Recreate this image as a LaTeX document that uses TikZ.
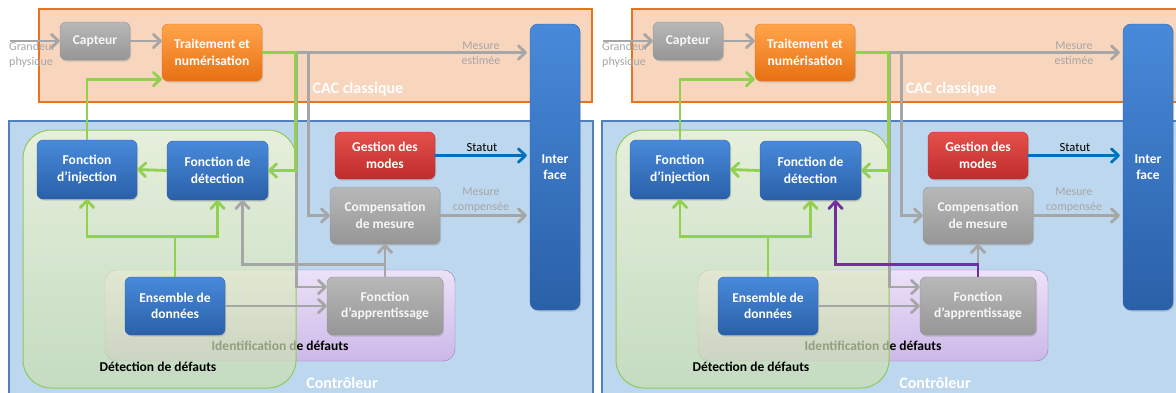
\documentclass[tikz,border=0pt]{standalone}
\usepackage{fontspec}
\setmainfont{Carlito}
\usetikzlibrary{arrows.meta, positioning, calc, shadows}
\definecolor{cacfill}{RGB}{248,214,190}
\definecolor{cacline}{RGB}{232,114,30}
\definecolor{ctrlfill}{RGB}{189,215,238}
\definecolor{ctrlline}{RGB}{79,129,189}
\definecolor{detT}{RGB}{248,250,212}
\definecolor{detB}{RGB}{200,222,176}
\definecolor{detline}{RGB}{146,200,90}
\definecolor{idT}{RGB}{236,226,248}
\definecolor{idB}{RGB}{204,184,232}
\definecolor{idline}{RGB}{150,120,195}
\definecolor{nodeblueT}{RGB}{72,138,218}
\definecolor{nodeblueB}{RGB}{42,96,168}
\definecolor{nodegreyT}{RGB}{184,184,184}
\definecolor{nodegreyB}{RGB}{150,150,150}
\definecolor{nodeorangeT}{RGB}{255,165,75}
\definecolor{nodeorangeB}{RGB}{232,112,20}
\definecolor{noderedT}{RGB}{228,80,74}
\definecolor{noderedB}{RGB}{190,45,45}
\definecolor{linegreen}{RGB}{146,208,80}
\definecolor{linegrey}{RGB}{166,166,166}
\definecolor{lineblue}{RGB}{0,112,192}
\definecolor{linepurple}{RGB}{112,48,160}
\begin{document}
\begin{tikzpicture}[x=1pt, y=-1pt,
    every node/.style={inner sep=0pt},
    box/.style={rounded corners=6pt, align=center, text=white,
        font=\fontsize{13.5}{16.5}\selectfont\bfseries,
        drop shadow={opacity=0.3, shadow xshift=1pt, shadow yshift=-1.5pt}},
    bluebox/.style={box, top color=nodeblueT, bottom color=nodeblueB, draw=nodeblueB},
    greybox/.style={box, top color=nodegreyT, bottom color=nodegreyB, draw=nodegreyB, text=white!94!gray},
    orangebox/.style={box, top color=nodeorangeT, bottom color=nodeorangeB, draw=nodeorangeB},
    redbox/.style={box, top color=noderedT, bottom color=noderedB, draw=noderedB},
    note/.style={text=linegrey, align=center, font=\fontsize{12}{15.5}\selectfont},
    zone/.style={font=\fontsize{13.5}{16}\selectfont\bfseries},
    bigzone/.style={text=white, font=\fontsize{16}{18}\selectfont\bfseries},
    sig/.style={line width=2.8pt, -{Straight Barb[length=7pt, width=13.5pt, round]}}]
    \path[use as bounding box, clip] (0,0) rectangle (1176,392);
    \fill[white] (0,0) rectangle (1176,392);
    \foreach \p/\dx/\col in {L/0/linegrey, R/593/linepurple}{
    \begin{scope}[xshift=\dx pt]
        % zones
        \draw[cacline, fill=cacfill, line width=1.2pt] (39,9) rectangle (592,102);
        \draw[ctrlline, fill=ctrlfill, line width=1.2pt] (9,121) rectangle (593,410);
        \draw[idline, top color=idT, bottom color=idB, rounded corners=12pt] (105,270) rectangle (455,361);
        \node[zone] (\p idlbl) at (280,346) {Identification de défauts};
        \draw[detline, line width=1pt, top color=detT, bottom color=detB, fill opacity=0.7, rounded corners=28pt]
            (23,130) rectangle (296,388);
        \node[zone] (\p detlbl) at (158,367) {Détection de défauts};
        \node[bigzone] (\p caclbl) at (358,89) {CAC classique};
        \node[bigzone] (\p ctrllbl) at (342,383) {Contrôleur};
        % blocs
        \node[greybox, minimum width=70pt, minimum height=38pt] (\p cap) at (95,41) {Capteur};
        \node[orangebox, minimum width=100pt, minimum height=57pt] (\p trt) at (212,52.5) {Traitement et\\numérisation};
        \node[bluebox, minimum width=100pt, minimum height=59pt] (\p inj) at (87,169.5) {Fonction\\d’injection};
        \node[bluebox, minimum width=101pt, minimum height=59pt] (\p det) at (217.5,170.5) {Fonction de\\détection};
        \node[bluebox, minimum width=100pt, minimum height=58pt] (\p ens) at (175,306) {Ensemble de\\données};
        \node[greybox, minimum width=116pt, minimum height=58pt] (\p app) at (385,306) {Fonction\\d’apprentissage};
        \node[redbox, minimum width=100pt, minimum height=47pt] (\p ges) at (385,155.5) {Gestion des\\modes};
        \node[greybox, minimum width=110pt, minimum height=57pt] (\p cmp) at (385,215.5) {Compensation\\de mesure};
        \node[bluebox, rounded corners=8pt, minimum width=50pt, minimum height=286pt] (\p itf) at (555,167) {Inter\\face};
        % textes
        \node[note, align=left, anchor=west] (\p gp) at (9,55) {Grandeur\\physique};
        \node[note] (\p est) at (481,53) {Mesure\\estimée};
        \node[note] (\p comp) at (481,200) {Mesure\\compensée};
        \node[font=\fontsize{12.5}{15}\selectfont] (\p stat) at (482,147) {Statut};
        \coordinate (\p in) at (10,41);
        % liaisons
        \draw[sig, linegrey] (\p in) -- (\p cap.west);
        \draw[sig, linegrey] (\p cap.east) -- (\p cap.east -| \p trt.west);
        \draw[sig, linegrey, shorten >=3pt] (\p trt.east) -- (\p trt.east -| \p itf.west);
        \draw[sig, linegrey] (\p trt.east) -- ++(46,0) |- (\p cmp.west);
        \draw[sig, linegrey] (\p trt.east) -- ++(34,0) |- ([yshift=19pt]\p app.west);
        \draw[sig, linegrey] (\p ens.east) -- (\p ens.east -| \p app.west);
        \draw[sig, linegrey] (\p app.north) -- (\p cmp.south);
        \draw[sig, linegrey, shorten >=3pt] (\p cmp.east) -- (\p cmp.east -| \p itf.west);
        \draw[sig, \col] (\p app.north) -- ++(0,-12) -| ([xshift=25pt]\p det.south);
        \draw[sig, linegreen] (\p trt.east) -- ++(33,0) |- (\p det.east);
        \draw[sig, linegreen] (\p det.west) -- (\p inj.east);
        \draw[sig, linegreen] (\p inj.north) |- ([yshift=2pt]\p trt.south west);
        \draw[sig, linegreen] (\p ens.north) -- ++(0,-40) -| (\p inj.south);
        \draw[sig, linegreen] (\p ens.north) -- ++(0,-40) -| (\p det.south);
        \draw[sig, lineblue, shorten >=3pt] (\p ges.east) -- (\p ges.east -| \p itf.west);
    \end{scope}
    }
\end{tikzpicture}
\end{document}
